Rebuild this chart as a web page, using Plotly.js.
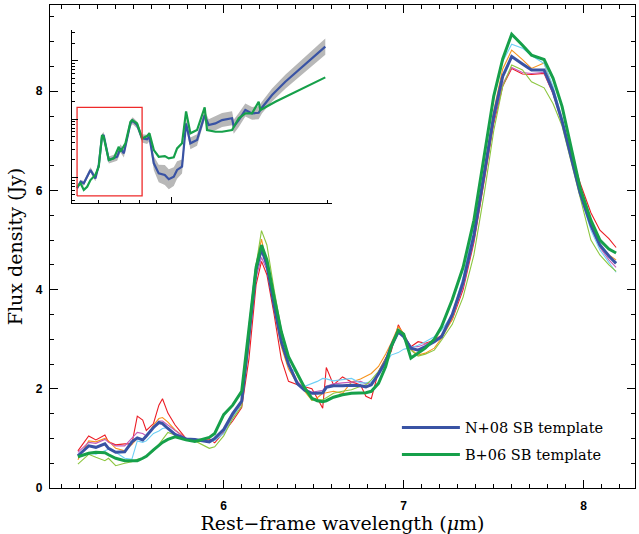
<!DOCTYPE html>
<html><head><meta charset="utf-8">
<script src="https://cdn.plot.ly/plotly-3.0.1.min.js"></script>
<style>html,body{margin:0;padding:0;background:#fff}#chart{width:639px;height:534px}</style>
</head><body><div id="chart"></div>
<script>
// Main panel: common wavelength grid (micron)
const wave = [5.19,5.25,5.29,5.34,5.36,5.40,5.45,5.49,5.52,5.55,5.57,5.61,5.64,5.66,5.69,5.73,5.79,5.84,5.92,5.95,6.00,6.05,6.10,6.14,6.18,6.21,6.24,6.28,6.32,6.36,6.41,6.45,6.49,6.52,6.55,6.57,6.61,6.66,6.71,6.76,6.79,6.82,6.86,6.90,6.93,6.97,7.00,7.04,7.08,7.12,7.17,7.21,7.27,7.33,7.39,7.45,7.50,7.55,7.60,7.66,7.71,7.78,7.83,7.88,7.93,7.98,8.04,8.09,8.14,8.18];
const specRed = [0.75,1.05,0.97,1.07,0.93,0.87,0.89,0.89,1.45,1.37,1.16,1.30,1.67,1.80,1.51,1.27,1.00,0.97,0.99,0.91,1.12,1.35,1.62,2.60,4.10,4.57,4.30,3.50,2.60,2.15,2.08,2.04,2.00,1.81,1.61,2.43,2.08,2.24,2.14,2.08,1.85,1.80,2.35,2.62,2.75,3.29,3.08,2.85,2.95,2.92,2.98,3.08,3.40,4.00,4.95,6.25,7.35,8.10,8.46,8.35,8.34,8.36,7.95,7.40,6.80,6.15,5.55,5.20,5.03,4.85];
const specOrange = [0.57,0.95,0.93,1.00,0.95,0.80,0.75,0.88,1.00,0.98,1.02,1.27,1.40,1.42,1.33,1.17,1.00,0.94,0.95,0.98,1.10,1.45,1.75,3.10,4.50,5.02,4.50,3.60,2.85,2.40,2.10,1.95,1.77,1.82,1.91,1.92,1.95,1.91,2.14,2.20,2.25,2.31,2.45,2.70,2.92,3.25,3.12,2.80,2.68,2.72,2.82,3.02,3.40,4.10,5.10,6.50,7.60,8.45,8.83,8.64,8.46,8.57,8.05,7.40,6.70,5.95,5.30,4.90,4.70,4.60];
const specMagenta = [0.72,0.92,0.90,0.98,0.92,0.85,0.85,1.00,1.12,1.10,1.05,1.24,1.35,1.35,1.27,1.15,1.00,0.97,0.95,0.97,1.10,1.45,1.70,2.90,4.25,4.65,4.40,3.65,2.95,2.50,2.15,2.00,1.93,1.95,1.97,2.05,2.10,2.12,2.14,2.15,2.10,2.12,2.30,2.60,2.90,3.20,3.10,2.85,2.85,2.90,2.97,3.05,3.45,4.05,5.00,6.30,7.40,8.15,8.48,8.38,8.36,8.38,7.95,7.35,6.65,5.90,5.25,4.85,4.60,4.45];
const specCyan = [0.65,0.70,0.68,0.75,0.78,0.72,0.60,0.58,0.95,0.92,0.95,1.10,1.15,1.20,1.22,1.08,1.00,0.98,0.92,0.96,1.10,1.40,1.75,3.10,4.40,4.80,4.45,3.70,3.00,2.45,2.30,2.05,2.10,2.15,2.21,2.20,2.16,2.18,2.21,2.12,2.12,2.14,2.30,2.51,2.68,2.73,2.80,2.83,2.88,2.95,3.05,3.18,3.50,4.25,5.30,6.70,7.85,8.60,8.95,8.87,8.72,8.56,8.10,7.45,6.70,5.90,5.20,4.80,4.55,4.35];
const specLime = [0.48,0.68,0.62,0.55,0.60,0.45,0.50,0.53,0.58,0.60,0.64,0.75,0.88,0.97,1.12,1.07,0.98,0.95,0.80,0.83,1.05,1.40,1.65,2.90,4.50,5.19,4.90,4.00,3.20,2.65,2.25,1.98,1.77,1.78,1.78,1.82,1.91,1.95,1.98,2.05,2.08,2.18,2.35,2.60,2.82,3.19,3.05,2.78,2.66,2.70,2.78,2.98,3.30,3.85,4.70,6.00,7.20,8.10,8.53,8.43,8.19,8.07,7.75,7.30,6.60,5.85,5.00,4.70,4.50,4.37];
const tplN08 = [0.65,0.85,0.82,0.89,0.80,0.72,0.73,0.93,1.01,0.97,1.05,1.22,1.32,1.30,1.20,1.08,0.99,0.98,0.93,1.00,1.18,1.50,1.75,3.10,4.40,4.82,4.50,3.68,2.95,2.50,2.10,1.97,1.91,1.91,1.92,2.03,2.06,2.06,2.07,2.06,2.04,2.08,2.30,2.55,2.85,3.15,3.05,2.82,2.78,2.85,2.95,3.05,3.50,4.15,5.10,6.40,7.50,8.30,8.70,8.55,8.43,8.43,8.00,7.40,6.70,5.95,5.30,4.90,4.68,4.53];
const tplB06 = [0.63,0.70,0.72,0.71,0.67,0.60,0.55,0.55,0.55,0.60,0.64,0.77,0.86,0.92,0.98,1.03,0.97,0.94,1.02,1.10,1.48,1.67,1.95,3.20,4.45,4.90,4.60,3.85,3.15,2.65,2.30,2.02,1.81,1.76,1.74,1.76,1.83,1.88,1.91,1.92,1.92,1.95,2.11,2.45,2.85,3.18,3.10,2.62,2.72,2.82,3.00,3.25,3.80,4.45,5.40,6.75,7.90,8.65,9.15,8.93,8.73,8.64,8.26,7.69,6.90,6.05,5.40,5.00,4.82,4.74];

// Inset (log-log, full range)
const inX = [5.17,5.30,5.42,5.55,5.68,5.88,6.02,6.16,6.23,6.46,6.69,6.85,7.01,7.18,7.52,7.64,7.88,8.16,8.45,8.59,8.86,9.17,9.57,9.84,10.19,10.43,10.80,11.11,11.45,12.0,12.66,13.02,13.65,14.3,15.34,15.52,16.08,16.84,17.65,18.49,18.93,20.31,22.29,24.48,26.88,29.51];
const inN08 = [0.65,0.84,0.79,1.03,1.34,0.96,1.63,4.98,5.32,1.98,2.12,2.26,3.14,2.58,8.43,9.36,7.89,4.66,4.49,4.98,1.74,1.17,1.10,0.93,1.03,1.34,1.53,8.43,3.83,4.37,11.7,7.89,8.43,9.6,10.3,7.4,9.6,14.3,12.5,12.8,15.8,25.8,43.6,69,110,174];
const inBandDex = [0.035,0.035,0.04,0.04,0.045,0.05,0.05,0.05,0.05,0.06,0.06,0.07,0.07,0.07,0.06,0.06,0.06,0.07,0.08,0.08,0.12,0.15,0.17,0.17,0.16,0.15,0.12,0.08,0.1,0.1,0.08,0.1,0.12,0.12,0.12,0.12,0.12,0.11,0.11,0.11,0.1,0.11,0.12,0.13,0.14,0.14];
const inGX = [5.17,5.30,5.42,5.55,5.68,5.88,6.02,6.16,6.23,6.46,6.69,6.93,7.01,7.26,7.52,7.61,7.88,8.16,8.45,8.59,8.86,9.17,9.57,9.84,10.19,10.43,10.80,11.11,11.45,12.0,12.66,12.87,13.65,14.3,15.34,16.08,16.84,17.65,18.49,18.71,20.79,23.36,26.26,29.51];
const inB06 = [0.69,0.79,0.61,0.69,0.9,1.1,1.52,5.32,4.98,1.98,2.12,3.35,2.75,3.83,9.0,9.6,8.43,4.66,5.1,5.7,2.94,2.26,2.32,2.12,2.2,3.14,3.83,13.5,5.7,6.47,15.8,6.47,6.06,6.06,6.47,10.3,12.5,12.5,19.8,14.3,19.8,27.5,38.3,51.8];
const boxX = [5.17,8.16,8.16,5.17,5.17];
const boxY = [0.48,0.48,15.8,15.8,0.48];

const legendNames = ['N+08 SB template','B+06 SB template'];

const thin = [[specRed,'#ec1c24'],[specOrange,'#f7941d'],[specMagenta,'#c45ab8'],[specCyan,'#6dcff6'],[specLime,'#8cc63f']];
const traces = thin.map(([y,c]) => ({x: wave, y: y, type:'scatter', mode:'lines', line:{color:c,width:1.1}, showlegend:false, hoverinfo:'skip'}));
traces.push({x: wave, y: tplN08, type:'scatter', mode:'lines', name: legendNames[0], legendgroup:'a', line:{color:'#3953a4',width:3}});
traces.push({x: wave, y: tplB06, type:'scatter', mode:'lines', name: legendNames[1], legendgroup:'b', line:{color:'#16a04a',width:3}});

const bandHi = inN08.map((v,i) => v*Math.pow(10,inBandDex[i]));
const bandLo = inN08.map((v,i) => v/Math.pow(10,inBandDex[i]));
traces.push({x: inX, y: bandLo, xaxis:'x2', yaxis:'y2', type:'scatter', mode:'lines', line:{width:0,color:'#b5b5b5'}, showlegend:false});
traces.push({x: inX, y: bandHi, xaxis:'x2', yaxis:'y2', type:'scatter', mode:'lines', fill:'tonexty', fillcolor:'#b8b8b8', line:{width:0,color:'#b5b5b5'}, showlegend:false});
traces.push({x: inX, y: inN08, xaxis:'x2', yaxis:'y2', type:'scatter', mode:'lines', line:{color:'#3953a4',width:2.2}, showlegend:false});
traces.push({x: inGX, y: inB06, xaxis:'x2', yaxis:'y2', type:'scatter', mode:'lines', line:{color:'#16a04a',width:2.2}, showlegend:false});
traces.push({x: boxX, y: boxY, xaxis:'x2', yaxis:'y2', type:'scatter', mode:'lines', line:{color:'#ee2a2a',width:1.3}, showlegend:false});

const tickFont = {family:'Liberation Sans, Arial, sans-serif', size:12, color:'#000', weight:'bold'};
const titleFont = {family:'DejaVu Serif, serif', size:19, color:'#000'};

const layout = {
  width:639, height:534,
  margin:{l:50, r:4, t:5, b:46},
  paper_bgcolor:'#fff', plot_bgcolor:'rgba(0,0,0,0)',
  showlegend:true,
  legend:{x:0.593, y:0.158, xanchor:'left', yanchor:'top', bgcolor:'rgba(0,0,0,0)', itemwidth:58, font:{family:'DejaVu Serif, serif', size:14.5, color:'#000'}, tracegroupgap:5},
  xaxis:{range:[5.035,8.285], showline:true, mirror:'allticks', linecolor:'#000', linewidth:1.2, ticks:'inside', ticklen:8, tickwidth:1, tickcolor:'#000', dtick:1, tick0:0, tickfont:tickFont, showgrid:false, zeroline:false, ticklabelstandoff:6,
    minor:{dtick:0.1, ticks:'inside', ticklen:4, tickcolor:'#000', showgrid:false},
    title:{text:'Rest\u2212frame wavelength (<i>\u03bc</i>m)', font:titleFont, standoff:3}},
  yaxis:{range:[0,9.74], showline:true, mirror:'allticks', linecolor:'#000', linewidth:1.2, ticks:'inside', ticklen:8, tickwidth:1, tickcolor:'#000', dtick:2, tick0:0, tickfont:tickFont, showgrid:false, zeroline:false, ticklabelstandoff:4,
    minor:{dtick:0.5, ticks:'inside', ticklen:4, tickcolor:'#000', showgrid:false},
    title:{text:'Flux density (Jy)', font:titleFont, standoff:8}},
  xaxis2:{type:'log', domain:[0.0381,0.4826], anchor:'y2', range:[Math.log10(5), Math.log10(31)], showline:true, linecolor:'#000', linewidth:1.2, ticks:'inside', ticklen:6, tickcolor:'#000', dtick:1, showticklabels:false, showgrid:false, zeroline:false,
    minor:{dtick:'D1', ticks:'inside', ticklen:3, tickcolor:'#000', showgrid:false}},
  yaxis2:{type:'log', domain:[0.5907,0.9482], anchor:'x2', range:[-0.434, 2.526], showline:true, linecolor:'#000', linewidth:1.2, ticks:'inside', ticklen:6, tickcolor:'#000', dtick:1, showticklabels:false, showgrid:false, zeroline:false,
    minor:{dtick:'D1', ticks:'inside', ticklen:3, tickcolor:'#000', showgrid:false}}
};

Plotly.newPlot('chart', traces, layout, {displayModeBar:false, staticPlot:true});
</script>
</body></html>
